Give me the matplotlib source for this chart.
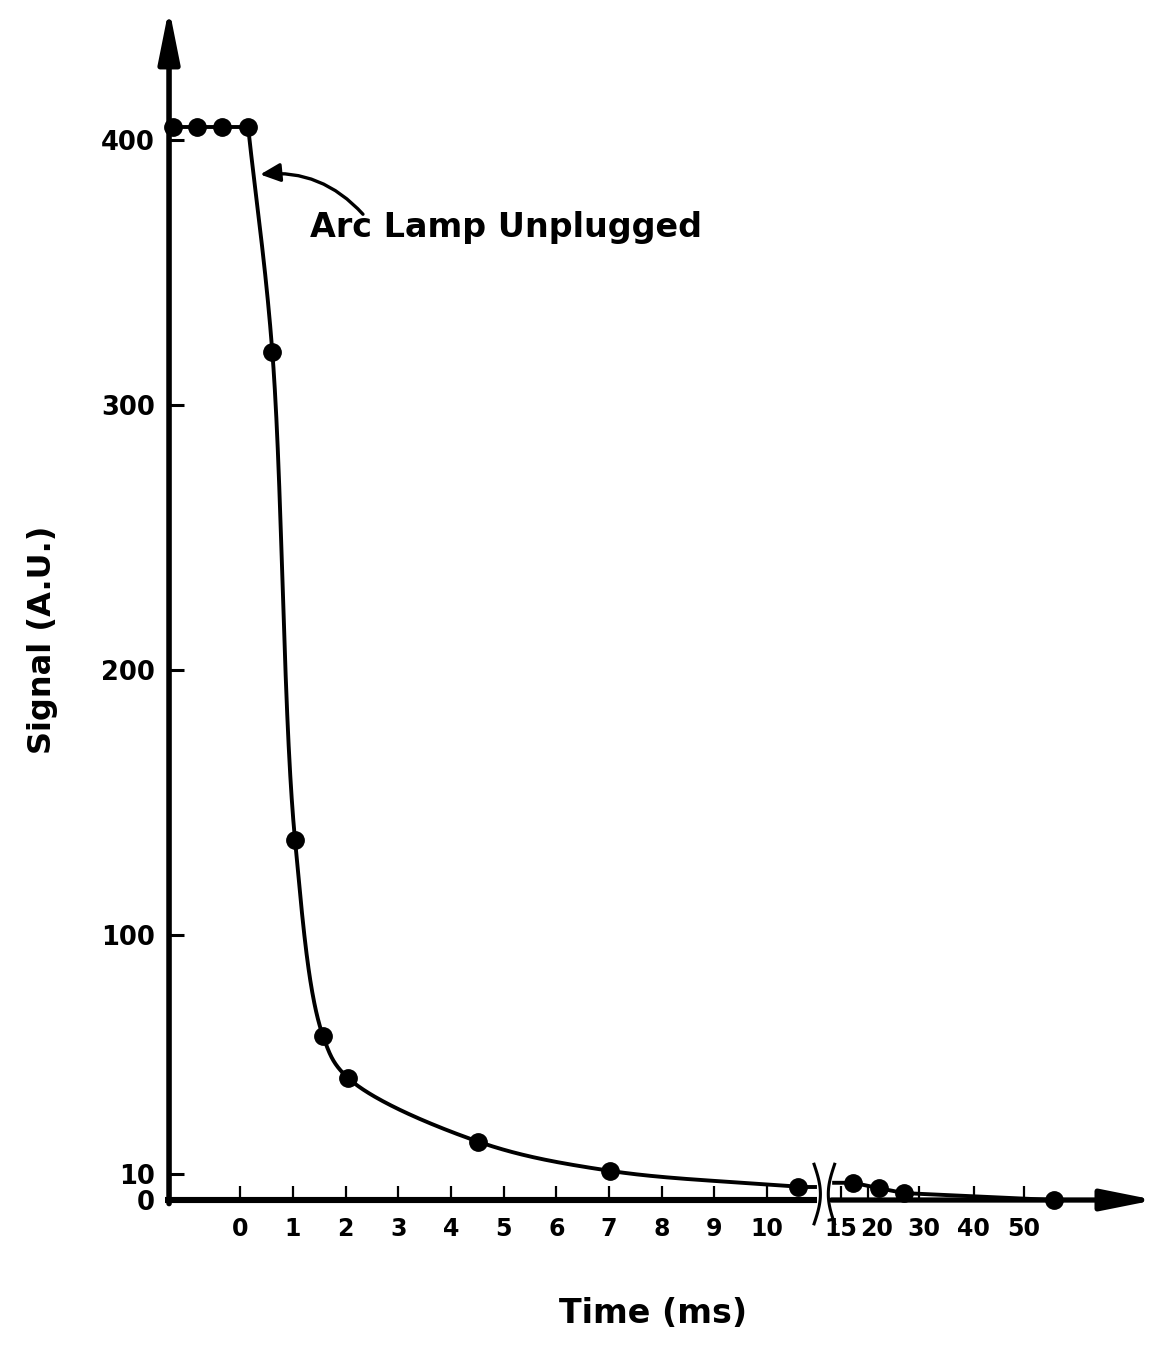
import numpy as np
import matplotlib
matplotlib.use('Agg')
import matplotlib.pyplot as plt
from matplotlib import transforms

# ---- data ----
time_pre = [-1.27, -0.82, -0.34, 0.15, 0.61, 1.04, 1.57, 2.05, 4.52, 7.02, 10.59]
signal_pre = [405, 405, 405, 405, 320, 136, 62, 46, 22, 11, 5]
time_post = [17.2, 22, 27, 55.7]
signal_post = [6.5, 4.5, 2.6, 0]

xtick_vals = [0, 1, 2, 3, 4, 5, 6, 7, 8, 9, 10, 15, 20, 30, 40, 50]
xtick_labels = [str(v) for v in xtick_vals]
ytick_vals = [0, 10, 100, 200, 300, 400]
ytick_labels = [str(v) for v in ytick_vals]

# broken time axis: time -> drawing position (linear up to the break)
scale_time = [-10, 11.1, 15, 20, 30, 40, 50, 200]
scale_pos = [-10, 11.1, 11.41, 11.92, 12.89, 13.92, 14.87, 29.87]


def fwd(t):
    return np.interp(t, scale_time, scale_pos)


def inv(p):
    return np.interp(p, scale_pos, scale_time)


def smooth_curve(x, y, sx=52.7, sy=2.65, n=80):
    # centripetal Catmull-Rom through the points, done in roughly square units
    P = np.column_stack([np.asarray(x, float) * sx, np.asarray(y, float) * sy])
    P = np.vstack([2 * P[0] - P[1], P, 2 * P[-1] - P[-2]])
    out = []
    for i in range(1, len(P) - 2):
        p0, p1, p2, p3 = P[i - 1], P[i], P[i + 1], P[i + 2]
        t0 = 0.0
        t1 = t0 + np.linalg.norm(p1 - p0) ** 0.5
        t2 = t1 + np.linalg.norm(p2 - p1) ** 0.5
        t3 = t2 + np.linalg.norm(p3 - p2) ** 0.5
        t = np.linspace(t1, t2, n)[:, None]
        a1 = (t1 - t) / (t1 - t0) * p0 + (t - t0) / (t1 - t0) * p1
        a2 = (t2 - t) / (t2 - t1) * p1 + (t - t1) / (t2 - t1) * p2
        a3 = (t3 - t) / (t3 - t2) * p2 + (t - t2) / (t3 - t2) * p3
        b1 = (t2 - t) / (t2 - t0) * a1 + (t - t0) / (t2 - t0) * a2
        b2 = (t3 - t) / (t3 - t1) * a2 + (t - t1) / (t3 - t1) * a3
        c = (t2 - t) / (t2 - t1) * b1 + (t - t1) / (t2 - t1) * b2
        out.append(c)
    c = np.vstack(out)
    return c[:, 0] / sx, c[:, 1] / sy


plt.rcParams['font.family'] = 'DejaVu Sans'
plt.rcParams['font.weight'] = 'bold'

fig = plt.figure(figsize=(11.57, 13.45), dpi=100)
ax = fig.add_axes([0.1461, 0.1078, 0.8522, 0.8862])
ax.set_xscale('function', functions=(fwd, inv))
ax.set_xlim(inv(-1.35), inv(17.36))
ax.set_ylim(0, 449.8)
for sp in ax.spines.values():
    sp.set_visible(False)

ax.set_xticks(xtick_vals)
ax.set_xticklabels(xtick_labels)
ax.set_yticks(ytick_vals)
ax.set_yticklabels(ytick_labels)
ax.xaxis.set_minor_locator(matplotlib.ticker.NullLocator())
ax.tick_params(axis='x', direction='in', length=10, width=1.6, pad=12, labelsize=17)
ax.tick_params(axis='y', direction='in', length=11, width=2.2, pad=10, labelsize=18.5)

# squeeze the labels after the break like in the original
shifts = {'15': -1, '20': 8, '30': 4}
for lbl in ax.get_xticklabels():
    dx = shifts.get(lbl.get_text(), 0)
    if dx:
        lbl.set_transform(lbl.get_transform() +
                          transforms.ScaledTranslation(dx / 100, 0, fig.dpi_scale_trans))

# axes with arrows and a break
brk_lo, brk_hi = 10.95, 11.22
ax.plot([inv(-1.42), inv(brk_lo)], [0, 0], color='black', lw=4.4,
        solid_capstyle='butt', clip_on=False)
head = '-|>,head_length=1.6,head_width=0.32'
ax.annotate('', xy=(1, 0), xycoords='axes fraction',
            xytext=(inv(brk_hi), 0), textcoords='data',
            arrowprops=dict(arrowstyle=head, lw=3.8, color='black',
                            shrinkA=0, shrinkB=0, mutation_scale=20))
ax.annotate('', xy=(0, 1), xycoords='axes fraction',
            xytext=(0, -0.003), textcoords='axes fraction',
            arrowprops=dict(arrowstyle=head, lw=4.0, color='black',
                            shrinkA=0, shrinkB=0, mutation_scale=20))

trans = transforms.blended_transform_factory(ax.transData, ax.transAxes)
s = np.linspace(0, 1, 60)
yb = 0.03 - 0.05 * s
ax.plot(inv(brk_lo - 0.06 + 0.12 * np.sin(np.pi * s)), yb, color='black', lw=2.2,
        transform=trans, clip_on=False)
ax.plot(inv(brk_hi + 0.06 - 0.12 * np.sin(np.pi * s)), yb, color='black', lw=2.2,
        transform=trans, clip_on=False)

# data curve
ax.plot(time_pre[:4], signal_pre[:4], color='black', lw=2.8)
cx, cy = smooth_curve(time_pre[3:], signal_pre[3:])
ax.plot(cx, cy, color='black', lw=2.8)
ax.plot([time_pre[-1], inv(brk_lo - 0.05)], [signal_pre[-1], signal_pre[-1]],
        color='black', lw=2.8)
ax.plot([inv(brk_hi + 0.05)] + time_post, [signal_post[0]] + signal_post,
        color='black', lw=2.8, clip_on=False)
ax.plot(time_pre, signal_pre, 'o', color='black', ms=12.5, clip_on=False)
ax.plot(time_post, signal_post, 'o', color='black', ms=12.5, clip_on=False)

# annotation
ax.annotate('', xy=(0.38, 387), xytext=(2.33, 372),
            arrowprops=dict(arrowstyle='-|>,head_length=0.6,head_width=0.28',
                            connectionstyle='arc3,rad=0.25', lw=2.4, color='black',
                            shrinkA=0, shrinkB=0, mutation_scale=20))
ax.text(1.33, 363.4, 'Arc Lamp Unplugged', fontsize=24, fontweight='bold',
        ha='left', va='baseline')

ax.set_xlabel('Time (ms)', fontsize=24, fontweight='bold', va='center')
ax.xaxis.set_label_coords(0.491, -0.0948)
ax.set_ylabel('Signal (A.U.)', fontsize=23, fontweight='bold', va='center')
ax.yaxis.set_label_coords(-0.1288, 0.47)

fig.savefig('out.png', dpi=100)
